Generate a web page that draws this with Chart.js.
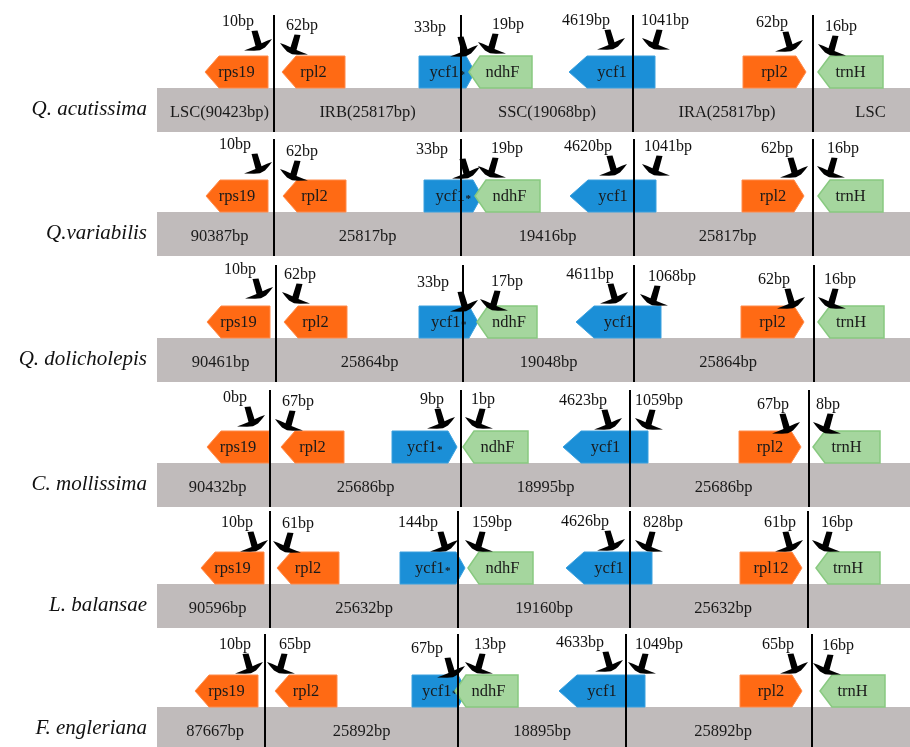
<!DOCTYPE html>
<html>
<head>
<meta charset="utf-8">
<script src="https://cdn.jsdelivr.net/npm/chart.js@4.4.1/dist/chart.umd.min.js"></script>
<style>
  html, body { margin: 0; padding: 0; background: #fff; }
  canvas { display: block; }
</style>
</head>
<body>
<canvas id="c" width="910" height="747"></canvas>
<script>
// ---- chloroplast genome junction data (six Fagaceae species) ----
const species = ['Q. acutissima', 'Q.variabilis', 'Q. dolicholepis', 'C. mollissima', 'L. balansae', 'F. engleriana'];

// region lengths (bp)
const lscLen = [90423, 90387, 90461, 90432, 90596, 87667];
const irLen  = [25817, 25817, 25864, 25686, 25632, 25892];
const sscLen = [19068, 19416, 19048, 18995, 19160, 18895];

// junction positions on the schematic map axis: LSC/IRb, IRb/SSC, SSC/IRa, IRa/LSC
const jLscIrb = [274, 274, 276, 270, 270, 265];
const jIrbSsc = [461, 461, 463, 461, 458, 458];
const jSscIra = [633, 634, 634, 630, 630, 626];
const jIraLsc = [813, 813, 814, 809, 808, 812];

// genes flanking the junctions
const geneNames = [
  ['rps19', 'rpl2', 'ycf1*', 'ndhF', 'ycf1', 'rpl2', 'trnH'],
  ['rps19', 'rpl2', 'ycf1*', 'ndhF', 'ycf1', 'rpl2', 'trnH'],
  ['rps19', 'rpl2', 'ycf1*', 'ndhF', 'ycf1', 'rpl2', 'trnH'],
  ['rps19', 'rpl2', 'ycf1*', 'ndhF', 'ycf1', 'rpl2', 'trnH'],
  ['rps19', 'rpl2', 'ycf1*', 'ndhF', 'ycf1', 'rpl12', 'trnH'],
  ['rps19', 'rpl2', 'ycf1*', 'ndhF', 'ycf1', 'rpl2', 'trnH']
];
const geneStart = [
  [205, 282, 419, 469, 569, 743, 818],
  [206, 283, 424, 475, 570, 742, 818],
  [207, 284, 419, 477, 576, 741, 818],
  [207, 281, 392, 463, 563, 739, 813],
  [201, 277, 400, 468, 566, 740, 816],
  [195, 275, 412, 455, 559, 740, 820]
];
const geneEnd = [
  [268, 345, 475, 532, 655, 806, 883],
  [268, 346, 482, 540, 656, 804, 883],
  [270, 347, 478, 537, 661, 804, 884],
  [269, 344, 457, 528, 648, 801, 880],
  [264, 339, 465, 533, 652, 802, 880],
  [258, 337, 467, 518, 645, 802, 885]
];
const geneStrand = [-1, -1, 1, -1, -1, 1, -1];
const geneType = ['orange', 'orange', 'blue', 'green', 'blue', 'orange', 'green'];

// distances (bp) from gene ends to the junctions
const bpValues = [
  [10, 62, 33, 19, 4619, 1041, 62, 16],
  [10, 62, 33, 19, 4620, 1041, 62, 16],
  [10, 62, 33, 17, 4611, 1068, 62, 16],
  [0, 67, 9, 1, 4623, 1059, 67, 8],
  [10, 61, 144, 159, 4626, 828, 61, 16],
  [10, 65, 67, 13, 4633, 1049, 65, 16]
];
const bpSide = ['L', 'R', 'L', 'R', 'L', 'R', 'L', 'R'];

// ---- layout ----
const ROW_TOP = [88, 212, 338, 463, 584, 707];
const BAR_H = 44, GENE_H = 32, LINE_UP = 73, BAR_X0 = 157, BAR_X1 = 910;
const bpLabelX = [
  [238, 302, 430, 508, 586, 665, 772, 841],
  [235, 302, 432, 507, 588, 668, 777, 843],
  [240, 300, 433, 507, 590, 672, 774, 840],
  [235, 298, 432, 483, 583, 659, 773, 828],
  [237, 298, 418, 492, 585, 663, 780, 837],
  [235, 295, 427, 490, 580, 659, 778, 838]
];
const bpLabelDy = [
  [-66, -62, -60, -63, -67, -67, -65, -61],
  [-67, -60, -62, -63, -65, -65, -63, -63],
  [-68, -63, -55, -56, -63, -61, -58, -58],
  [-65, -61, -63, -63, -62, -62, -58, -58],
  [-61, -60, -61, -61, -62, -61, -61, -61],
  [-62, -62, -58, -62, -64, -62, -62, -61]
];
const bpTipX = [
  [272, 280, 478, 478, 625, 642, 803, 818],
  [272, 280, 480, 478, 627, 642, 808, 817],
  [273, 282, 478, 480, 628, 640, 805, 818],
  [265, 275, 455, 465, 622, 635, 800, 813],
  [268, 273, 458, 465, 625, 635, 803, 812],
  [263, 267, 465, 465, 623, 628, 808, 813]
];

const SERIF = '"Liberation Serif", "Times New Roman", serif';
const COLORS = {
  orange: { fill: '#ff6a14', stroke: '#ff8a4a' },
  blue:   { fill: '#1b8fd7', stroke: '#3aa0de' },
  green:  { fill: '#a5d69e', stroke: '#88c980' }
};
const GRAY = '#c0bbbb';

function headLen(name, strand) {
  if (name === 'ycf1') return 18;
  if (name === 'ycf1*') return 9;
  if (name === 'ndhF') return 11;
  if (name === 'trnH') return 12;
  return strand < 0 ? 14 : 10;
}

// check-mark style pointer outline, tip at (0,0); mirrored for right-hand pointers
const POINTER = [
  [-28, 11.5], [-22, 9.2], [-16.5, 7], [-20.5, -8], [-14.5, -8.5], [-10.5, 4.2],
  [-5, 1.8], [0, 0], [-3, 4], [-7, 8.5], [-12, 11.2], [-18, 11.8]
];

const diagramPlugin = {
  id: 'junctionDiagram',
  afterDatasetsDraw(chart) {
    const ctx = chart.ctx;
    const xs = chart.scales.x, ys = chart.scales.y;
    const X = v => xs.getPixelForValue(v);
    const Y = v => ys.getPixelForValue(v);
    ctx.save();
    for (let r = 0; r < species.length; r++) {
      const top = ROW_TOP[r];
      const juncs = [jLscIrb[r], jIrbSsc[r], jSscIra[r], jIraLsc[r]];

      // gray genome band
      ctx.fillStyle = GRAY;
      ctx.fillRect(X(BAR_X0), Y(top), X(BAR_X1) - X(BAR_X0), Y(top + BAR_H) - Y(top));

      // species name
      ctx.fillStyle = '#111';
      ctx.font = 'italic 21px ' + SERIF;
      ctx.textAlign = 'right';
      ctx.textBaseline = 'middle';
      ctx.fillText(species[r], X(147), Y(top + 21));

      // region labels
      const bounds = [BAR_X0, ...juncs, BAR_X1];
      const texts = r === 0
        ? ['LSC(' + lscLen[r] + 'bp)', 'IRB(' + irLen[r] + 'bp)', 'SSC(' + sscLen[r] + 'bp)', 'IRA(' + irLen[r] + 'bp)', 'LSC']
        : [lscLen[r] + 'bp', irLen[r] + 'bp', sscLen[r] + 'bp', irLen[r] + 'bp'];
      const nudge = [4, 0, 0, 4, 9];
      ctx.font = '16.5px ' + SERIF;
      ctx.textAlign = 'center';
      ctx.fillStyle = '#1a1a1a';
      texts.forEach((t, k) => {
        const cx = (bounds[k] + bounds[k + 1]) / 2 + nudge[k];
        ctx.fillText(t, X(cx), Y(top + 25));
      });

      // genes
      const gTop = top - GENE_H, gMid = top - GENE_H / 2;
      for (let g = 0; g < geneNames[r].length; g++) {
        const s = geneStart[r][g], e = geneEnd[r][g], st = geneStrand[g];
        const name = geneNames[r][g];
        const h = headLen(name, st);
        const col = COLORS[geneType[g]];
        ctx.beginPath();
        if (st < 0) {
          ctx.moveTo(X(s), Y(gMid));
          ctx.lineTo(X(s + h), Y(gTop));
          ctx.lineTo(X(e), Y(gTop));
          ctx.lineTo(X(e), Y(top));
          ctx.lineTo(X(s + h), Y(top));
        } else {
          ctx.moveTo(X(s), Y(gTop));
          ctx.lineTo(X(e - h), Y(gTop));
          ctx.lineTo(X(e), Y(gMid));
          ctx.lineTo(X(e - h), Y(top));
          ctx.lineTo(X(s), Y(top));
        }
        ctx.closePath();
        ctx.fillStyle = col.fill;
        ctx.fill();
        ctx.lineWidth = geneType[g] === 'green' ? 1.5 : 1;
        ctx.strokeStyle = col.stroke;
        ctx.stroke();

        // gene name
        ctx.fillStyle = '#1a1a1a';
        ctx.textAlign = 'left';
        ctx.textBaseline = 'middle';
        const cx = X((s + e) / 2 + (name === 'ndhF' ? 2 : 0));
        if (name.endsWith('*')) {
          const base = name.slice(0, -1);
          ctx.font = '16.5px ' + SERIF;
          const w1 = ctx.measureText(base).width;
          ctx.font = 'bold 11px ' + SERIF;
          const w2 = ctx.measureText('*').width;
          const x0 = cx - (w1 + w2) / 2;
          ctx.font = '16.5px ' + SERIF;
          ctx.fillText(base, x0, Y(gMid + 1));
          ctx.font = 'bold 11px ' + SERIF;
          ctx.fillText('*', x0 + w1 + 0.5, Y(gMid + 3));
        } else {
          ctx.font = '16.5px ' + SERIF;
          ctx.textAlign = 'center';
          ctx.fillText(name, cx, Y(gMid + 1));
        }
      }

      // junction lines
      ctx.strokeStyle = '#000';
      ctx.lineWidth = 2;
      juncs.forEach(j => {
        ctx.beginPath();
        ctx.moveTo(X(j), Y(top - LINE_UP));
        ctx.lineTo(X(j), Y(top + BAR_H));
        ctx.stroke();
      });

      // distance labels and pointers
      for (let k = 0; k < bpValues[r].length; k++) {
        const ly = top + bpLabelDy[r][k];
        ctx.fillStyle = '#111';
        ctx.font = '16px ' + SERIF;
        ctx.textAlign = 'center';
        ctx.textBaseline = 'middle';
        ctx.fillText(bpValues[r][k] + 'bp', X(bpLabelX[r][k]), Y(ly));

        const tx = bpTipX[r][k], ty = ly + 17;
        const m = bpSide[k] === 'L' ? 1 : -1;
        ctx.beginPath();
        POINTER.forEach(([dx, dy], i) => {
          const px = X(tx + m * dx), py = Y(ty + dy);
          if (i === 0) ctx.moveTo(px, py); else ctx.lineTo(px, py);
        });
        ctx.closePath();
        ctx.fillStyle = '#000';
        ctx.fill();
      }
    }
    ctx.restore();
  }
};

new Chart(document.getElementById('c'), {
  type: 'scatter',
  data: { datasets: [{ data: [], pointRadius: 0 }] },
  options: {
    responsive: false,
    devicePixelRatio: 1,
    animation: false,
    layout: { padding: 0 },
    events: [],
    plugins: { legend: { display: false }, tooltip: { enabled: false } },
    scales: {
      x: { type: 'linear', min: 0, max: 910, display: false },
      y: { type: 'linear', min: 0, max: 747, reverse: true, display: false }
    }
  },
  plugins: [diagramPlugin]
});
</script>
</body>
</html>
